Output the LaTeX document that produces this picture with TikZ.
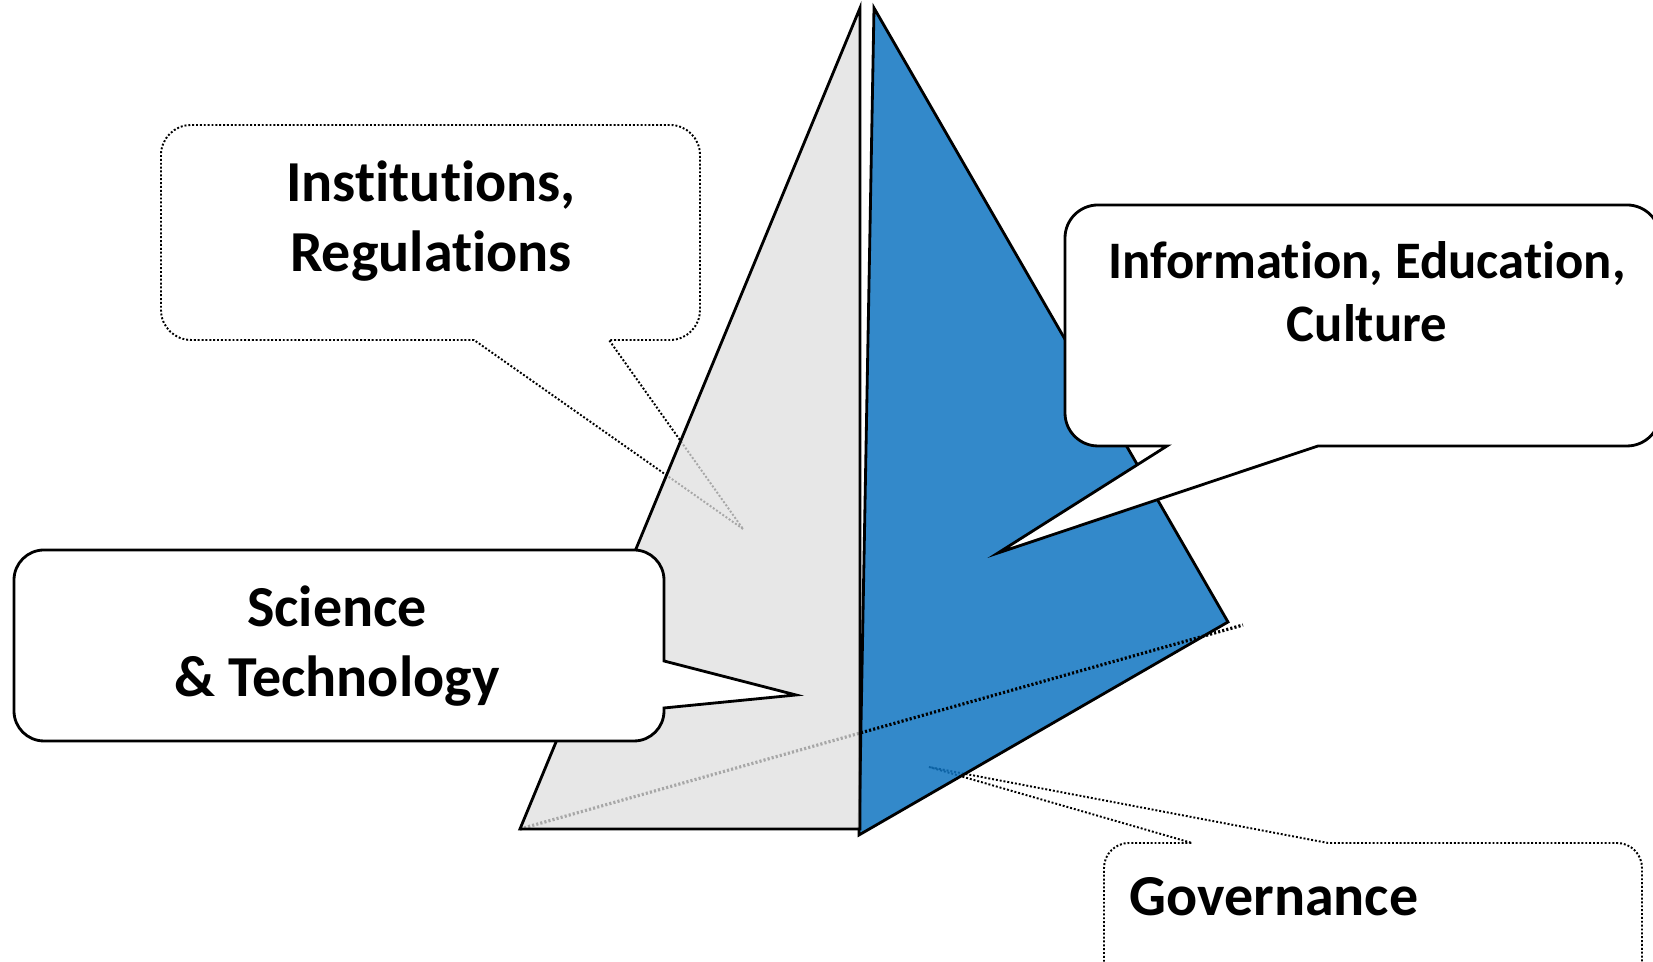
\documentclass[tikz,border=0pt]{standalone}
\usepackage{fontspec}
\setmainfont{Carlito}[Ligatures=NoCommon]
\usetikzlibrary{calc}

\definecolor{facegray}{RGB}{223,223,223}
\definecolor{faceblue}{RGB}{15,116,193}

\tikzset{
  face/.style={draw=black, line width=0.8pt, line join=miter},
  bubble/.style={draw=black, fill=white, line width=0.8pt},
  dotbubble/.style={draw=black, fill=white, line width=0.55pt, dash pattern=on 0.55pt off 0.55pt},
  backedge/.style={line width=0.9pt, dash pattern=on 0.6pt off 0.6pt},
  bigtext/.style={font=\fontsize{16.5}{19.8}\selectfont\bfseries, align=center},
  infotext/.style={font=\fontsize{15}{18}\selectfont\bfseries, align=center}
}

\begin{document}
\begin{tikzpicture}
\useasboundingbox (0,0) rectangle (16.53,9.62);
\clip (0,0) rectangle (16.53,9.62);

% pyramid corners
\coordinate (gtop) at (8.60,9.54);
\coordinate (gleft) at (5.20,1.33);
\coordinate (gright) at (8.60,1.33);
\coordinate (btop) at (8.74,9.54);
\coordinate (bbot) at (8.59,1.27);
\coordinate (bright) at (12.28,3.40);
\coordinate (bend) at (12.43,3.37);

% callout tips
\coordinate (govtip) at (9.29,1.95);
\coordinate (insttip) at (7.43,4.33);
\coordinate (scitip) at (7.96,2.67);
\coordinate (infotip) at (9.98,4.09);

% dotted bubbles sit behind the faces
\draw[dotbubble] (govtip) -- (11.92,1.19) [rounded corners=0.25cm] -- (11.04,1.19) -- (11.04,-0.40) -- (16.42,-0.40) -- (16.42,1.19) [sharp corners] -- (13.28,1.19) -- cycle;
\draw[dotbubble] (insttip) -- (4.74,6.22) [rounded corners=0.3cm] -- (1.61,6.22) -- (1.61,8.37) -- (7.00,8.37) -- (7.00,6.22) [sharp corners] -- (6.09,6.22) -- cycle;

% faces
\draw[face, fill=faceblue, fill opacity=0.85] (btop) -- (bright) -- (bbot) -- cycle;
\draw[backedge] (gleft) -- (bend);
\draw[face, fill=facegray, fill opacity=0.75] (gtop) -- (gleft) -- (gright) -- cycle;

% solid bubbles
\draw[bubble] (scitip) -- (6.64,3.01) [rounded corners=0.3cm] -- (6.64,4.12) -- (0.14,4.12) -- (0.14,2.21) -- (6.64,2.21) [sharp corners] -- (6.64,2.54) -- cycle;
\draw[bubble] (infotip) -- (11.67,5.16) [rounded corners=0.33cm] -- (10.65,5.16) -- (10.65,7.57) -- (16.60,7.57) -- (16.60,5.16) [sharp corners] -- (13.18,5.16) -- cycle;

% labels
\node[bigtext] (inst) at (4.31,7.41) {Institutions,\\Regulations};
\node[bigtext] (sci) at (3.37,3.16) {Science\\\& Technology};
\node[infotext] (info) at (13.67,6.70) {Information, Education,\\Culture};
\node[bigtext, anchor=west] (gov) at (11.17,0.65) {Governance};

\end{tikzpicture}
\end{document}
